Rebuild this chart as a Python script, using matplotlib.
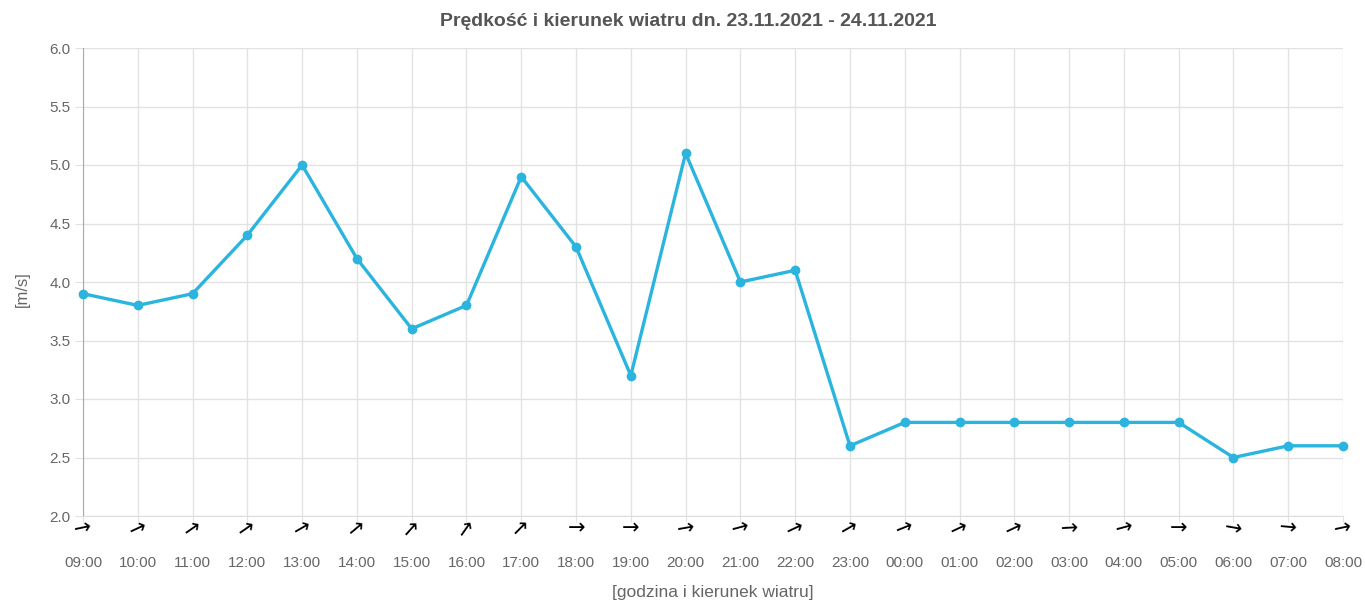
import matplotlib
matplotlib.use("Agg")
import matplotlib.pyplot as plt
import matplotlib.transforms as mtransforms

hours = ["09:00", "10:00", "11:00", "12:00", "13:00", "14:00", "15:00", "16:00",
         "17:00", "18:00", "19:00", "20:00", "21:00", "22:00", "23:00", "00:00",
         "01:00", "02:00", "03:00", "04:00", "05:00", "06:00", "07:00", "08:00"]
speed = [3.9, 3.8, 3.9, 4.4, 5.0, 4.2, 3.6, 3.8, 4.9, 4.3, 3.2, 5.1,
         4.0, 4.1, 2.6, 2.8, 2.8, 2.8, 2.8, 2.8, 2.8, 2.5, 2.6, 2.6]
# arrow direction angles (degrees, counterclockwise from east)
arrow_angle = [12, 25, 35, 35, 30, 40, 48, 55, 45, 0, 0, 10,
               15, 25, 30, 22, 25, 25, 3, 15, 0, -10, -5, 12]
yticks = [2.0, 2.5, 3.0, 3.5, 4.0, 4.5, 5.0, 5.5, 6.0]

plt.rcParams['font.family'] = ['Liberation Sans', 'DejaVu Sans']

fig = plt.figure(figsize=(13.65, 6.02), dpi=100)
ax = fig.add_axes([83/1365, 1-516/602, (1343-83)/1365, (516-48)/602])

x = list(range(len(hours)))
color = '#2ab4de'
ax.plot(x, speed, color=color, lw=2.4, marker='o', ms=6, mfc=color, mec=color, zorder=3,
        clip_on=False)

ax.set_xlim(0, len(hours)-1)
ax.set_ylim(2.0, 6.0)
ax.set_yticks(yticks)
ax.set_yticklabels([f"{v:.1f}" for v in yticks])
ax.set_xticks(x)
ax.set_xticklabels(hours)

ax.grid(True, color='#e2e2e2', lw=1)
ax.set_axisbelow(True)
for s in ['top', 'right']:
    ax.spines[s].set_visible(False)
ax.spines['left'].set_color('#aaaaaa')
ax.spines['bottom'].set_color('#dddddd')
ax.tick_params(axis='x', length=4, color='#e2e2e2', pad=25, labelsize=11, labelcolor='#666666')
ax.tick_params(axis='y', length=6, color='#e2e2e2', pad=3, labelsize=11, labelcolor='#666666')

trans = mtransforms.blended_transform_factory(ax.transData, ax.transAxes)
for xi, ang in zip(x, arrow_angle):
    ax.text(xi, -0.027, "→", transform=trans, rotation=ang, rotation_mode='anchor',
            ha='center', va='center', fontsize=15, color='black',
            family='DejaVu Sans', clip_on=False)

fig.text(22/1365, 1-289/602, "[m/s]", rotation=90, ha='center', va='center',
         color='#666666', fontsize=12)
fig.text(0.5 + (713-682.5)/1365, 1-593/602, "[godzina i kierunek wiatru]",
         ha='center', va='center', color='#666666', fontsize=12.5)
fig.text(688/1365, 1-22/602, "Prędkość i kierunek wiatru dn. 23.11.2021 - 24.11.2021",
         ha='center', va='center', fontsize=14, fontweight='bold', color='#555555')

fig.savefig("out.png", dpi=100)
